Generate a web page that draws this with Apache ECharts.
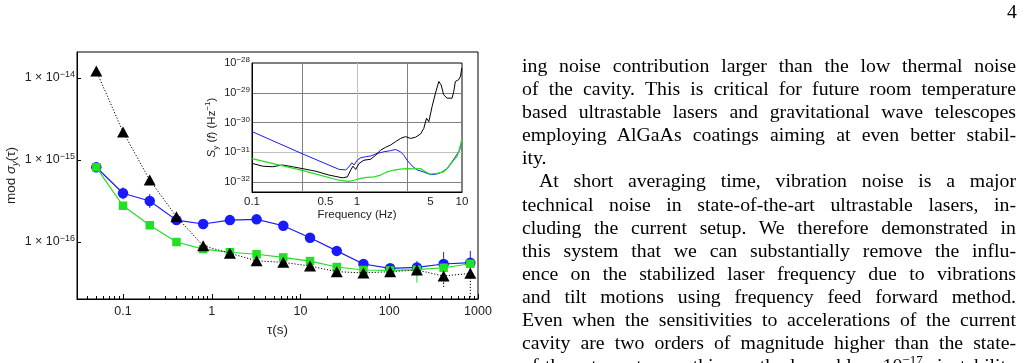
<!DOCTYPE html>
<html>
<head>
<meta charset="utf-8">
<title>mod sigma</title>
<script src="https://cdn.jsdelivr.net/npm/echarts@6/dist/echarts.min.js"></script>
<style>
  html, body { margin: 0; padding: 0; background: #fff; }
  #chart { position: absolute; left: 0; top: 0; width: 1026px; height: 363px; }
  .pageno { position: absolute; left: 1007px; top: 0px; font-family: "Liberation Serif"; font-size: 19.8px; line-height: 23px; color: #000; }
  .col { position: absolute; left: 522px; top: 54px; width: 494px; font-family: "Liberation Serif"; font-size: 19.8px; line-height: 23.1px; color: #000; }
  .col div { text-align: justify; text-align-last: justify; }
  .col div.last { text-align-last: left; }
  .col div.ind { text-indent: 17px; }
  .col sup { font-size: 13px; line-height: 0; }
</style>
</head>
<body>
<div id="chart"></div>
<div class="pageno">4</div>
<div class="col">
  <div>ing noise contribution larger than the low thermal noise</div>
  <div>of the cavity. This is critical for future room temperature</div>
  <div>based ultrastable lasers and gravitational wave telescopes</div>
  <div>employing AlGaAs coatings aiming at even better stabil-</div>
  <div class="last">ity.</div>
  <div class="ind">At short averaging time, vibration noise is a major</div>
  <div>technical noise in state-of-the-art ultrastable lasers, in-</div>
  <div>cluding the current setup. We therefore demonstrated in</div>
  <div>this system that we can substantially remove the influ-</div>
  <div>ence on the stabilized laser frequency due to vibrations</div>
  <div>and tilt motions using frequency feed forward method.</div>
  <div>Even when the sensitivities to accelerations of the current</div>
  <div>cavity are two orders of magnitude higher than the state-</div>
  <div>of-the-art systems, this method enables 10<sup>−17</sup> instability</div>
</div>
<script type="text/javascript">
  // averaging times (s)
  var tau = [0.05, 0.1, 0.2, 0.4, 0.8, 1.6, 3.2, 6.4, 12.8, 25.6, 51.2, 102.4, 204.8, 409.6, 819.2];
  var modBlue = [8.15e-16, 3.93e-16, 3.16e-16, 1.85e-16, 1.66e-16, 1.85e-16, 1.89e-16, 1.58e-16, 1.13e-16, 7.8e-17, 5.4e-17, 4.78e-17, 4.9e-17, 5.4e-17, 5.6e-17];
  var modGreen = [8.15e-16, 2.77e-16, 1.6e-16, 1.0e-16, 8.2e-17, 7.5e-17, 7.1e-17, 6.5e-17, 5.86e-17, 4.96e-17, 4.56e-17, 4.5e-17, 4.6e-17, 4.86e-17, 5.43e-17];
  var modBlack = [1.22e-14, 2.2e-15, 5.7e-16, 2.04e-16, 9.0e-17, 7.3e-17, 5.9e-17, 5.65e-17, 5.1e-17, 4.35e-17, 4.2e-17, 4.35e-17, 4.56e-17, 3.85e-17, 4.15e-17];

  // error bars [tau, low, high]
  var blueErr = [[0.1, 3.32e-16, 4.65e-16], [0.2, 2.6e-16, 3.85e-16], [102.4, 4.4e-17, 5.2e-17], [204.8, 4.07e-17, 5.86e-17], [409.6, 3.85e-17, 7.55e-17], [819.2, 3.95e-17, 7.8e-17]];
  var greenErr = [[204.8, 3.2e-17, 5.7e-17], [409.6, 3.1e-17, 6.4e-17]];
  var blackErr = [[409.6, 2.83e-17, 4.9e-17], [819.2, 1.0e-17, 5.1e-17]];

  // tick labels
  var tauTicks = [0.1, 1, 10, 100, 1000];
  var tauMinor = [0.04, 0.05, 0.06, 0.07, 0.08, 0.09, 0.2, 0.3, 0.4, 0.5, 0.6, 0.7, 0.8, 0.9, 2, 3, 4, 5, 6, 7, 8, 9, 20, 30, 40, 50, 60, 70, 80, 90, 200, 300, 400, 500, 600, 700, 800, 900];
  var modTicks = [1e-16, 1e-15, 1e-14];
  var freqTicks = [0.1, 0.5, 1, 5, 10];
  var freqGrid = [0.3, 1, 3];
  var specTicks = [1e-32, 1e-31, 1e-30, 1e-29, 1e-28];
  var specGrid = [1e-32, 1e-31, 1e-30, 1e-29];

  // inset: frequency noise spectra S_y(f) in Hz^-1
  var freqBlue = [0.1, 0.3, 0.675, 0.782, 0.839, 0.891, 0.938, 1.007, 1.084, 1.21, 1.35, 1.56, 1.8, 2.09, 2.33, 2.6, 2.79, 3.0, 3.35, 3.74, 4.33, 5.01, 5.79, 6.46, 7.21, 8.04, 8.65, 9.51, 9.79];
  var specBlue = [5.0e-31, 9.1e-32, 2.7e-32, 2.6e-32, 3.3e-32, 4.5e-32, 3.8e-32, 5.5e-32, 6.6e-32, 7.2e-32, 7.6e-32, 9.3e-32, 1.05e-31, 1.15e-31, 1.26e-31, 1.05e-31, 8.1e-32, 5.5e-32, 3.5e-32, 2.6e-32, 2.2e-32, 1.8e-32, 1.9e-32, 2.2e-32, 2.9e-32, 4.9e-32, 7.2e-32, 1.2e-31, 2.0e-31];
  var freqGreen = [0.1, 0.3, 0.675, 0.839, 0.938, 1.084, 1.25, 1.45, 1.68, 1.94, 2.24, 2.6, 3.0, 3.47, 4.03, 4.49, 5.0, 5.8, 6.7, 7.48, 8.34, 8.97, 9.51, 10];
  var specGreen = [6.2e-32, 2.5e-32, 1.17e-32, 1.07e-32, 1.17e-32, 1.35e-32, 1.45e-32, 1.51e-32, 1.74e-32, 2.24e-32, 2.57e-32, 2.75e-32, 2.88e-32, 2.82e-32, 2.88e-32, 2.24e-32, 1.86e-32, 2.0e-32, 2.24e-32, 3.31e-32, 5.5e-32, 7.24e-32, 1.38e-31, 2.95e-31];
  var freqBlack = [0.1, 0.126, 0.157, 0.195, 0.243, 0.3, 0.406, 0.542, 0.725, 0.809, 0.871, 0.916, 0.972, 1.045, 1.165, 1.35, 1.51, 1.68, 1.87, 2.09, 2.33, 2.6, 2.9, 3.24, 3.61, 4.03, 4.33, 4.59, 4.83, 5.19, 5.59, 6.01, 6.32, 6.7, 7.21, 8.04, 8.34, 8.65, 9.29, 9.66, 9.95];
  var specBlack = [4.3e-32, 3.47e-32, 3.31e-32, 3.8e-32, 3.31e-32, 2.88e-32, 2.34e-32, 1.74e-32, 1.41e-32, 1.51e-32, 2.57e-32, 3.47e-32, 2.69e-32, 4.27e-32, 5.5e-32, 5.89e-32, 8.13e-32, 1.2e-31, 1.48e-31, 1.78e-31, 2.29e-31, 2.95e-31, 3.39e-31, 2.95e-31, 3.24e-31, 4.17e-31, 6.46e-31, 1.41e-30, 1.07e-30, 3.47e-30, 9.77e-30, 2.4e-29, 1.86e-29, 8.51e-30, 6.61e-30, 6.61e-30, 1.1e-29, 2.4e-29, 2.75e-29, 3.55e-29, 6.76e-29];

  // the inset axis works in units of 1e-32 Hz^-1 (echarts rounds very small numbers to 0)
  var specUnit = 1e-32;
  var specExp = 32;

  var sans = 'Liberation Sans';
  var labelColor = '#222';

  function pairs(xs, ys, unit) {
    var out = [];
    for (var i = 0; i < xs.length; i++) out.push([xs[i], unit ? ys[i] / unit : ys[i]]);
    return out;
  }

  function scaled(list, unit) {
    return list.map(function (v) { return +(v / unit).toPrecision(6); });
  }

  function expOf(v) {
    return Math.round(Math.log(v) / Math.LN10);
  }

  function errSeries(data, color, dotted) {
    return {
      type: 'custom',
      xAxisIndex: 0,
      yAxisIndex: 0,
      data: data,
      z: 1,
      clip: true,
      encode: { x: 0, y: [1, 2] },
      renderItem: function (params, api) {
        var a = api.coord([api.value(0), api.value(1)]);
        var b = api.coord([api.value(0), api.value(2)]);
        return {
          type: 'line',
          shape: { x1: a[0], y1: a[1], x2: b[0], y2: b[1] },
          style: { stroke: color, lineWidth: 1, lineDash: dotted ? [1.2, 1.8] : null }
        };
      }
    };
  }

  var myChart = echarts.init(document.getElementById('chart'), null, { renderer: 'canvas' });

  var option = {
    backgroundColor: '#fff',
    animation: false,
    grid: [
      { left: 77, top: 52, width: 401, height: 247, show: true, borderColor: '#000', borderWidth: 1, backgroundColor: 'transparent' },
      { left: 252, top: 63, width: 210, height: 129, show: true, borderColor: '#000', borderWidth: 1, backgroundColor: '#fff' }
    ],
    xAxis: [
      {
        type: 'log', gridIndex: 0, min: 0.0303, max: 1000,
        axisLine: { lineStyle: { color: '#000', width: 1 } },
        axisTick: { inside: true, length: 5, customValues: tauTicks, lineStyle: { color: '#000' } },
        axisLabel: {
          customValues: tauTicks, margin: 6, fontSize: 12.5, fontFamily: sans, color: labelColor,
          formatter: function (v) { return String(+v.toPrecision(3)); }
        },
        splitLine: { show: false },
        name: 'τ(s)', nameLocation: 'middle', nameGap: 22,
        nameTextStyle: { fontSize: 13.5, fontFamily: sans, color: labelColor }
      },
      {
        type: 'log', gridIndex: 0, min: 0.0303, max: 1000, position: 'bottom',
        axisLine: { show: false },
        axisTick: { inside: true, length: 3, customValues: tauMinor, lineStyle: { color: '#000' } },
        axisLabel: { show: false },
        splitLine: { show: false }
      },
      {
        type: 'log', gridIndex: 1, min: 0.1, max: 10,
        axisLine: { lineStyle: { color: '#000', width: 1 } },
        axisTick: { show: false, customValues: freqGrid },
        axisLabel: {
          customValues: freqTicks, margin: 4, fontSize: 11.5, fontFamily: sans, color: labelColor,
          formatter: function (v) { return String(+v.toPrecision(3)); }
        },
        splitLine: { show: true, lineStyle: { color: ['#808080', '#c0c0c0', '#808080'], width: 1 } },
        name: 'Frequency (Hz)', nameLocation: 'middle', nameGap: 17,
        nameTextStyle: { fontSize: 11.5, fontFamily: sans, color: labelColor }
      }
    ],
    yAxis: [
      {
        type: 'log', gridIndex: 0, min: 2.02e-17, max: 2.075e-14,
        axisLine: { lineStyle: { color: '#000', width: 1 } },
        axisTick: { inside: true, length: 4, customValues: modTicks, lineStyle: { color: '#000' } },
        axisLabel: {
          customValues: modTicks, margin: 2, fontSize: 12.5, fontFamily: sans, color: labelColor, lineHeight: 16,
          formatter: function (v) { return '1 × 10{sup|−' + (-expOf(v)) + '}'; },
          rich: { sup: { fontSize: 9, fontFamily: sans, color: labelColor, lineHeight: 8, verticalAlign: 'top' } }
        },
        splitLine: { show: false },
        name: 'mod {i|σ}{sub|y}(τ)', nameLocation: 'middle', nameGap: 52, nameRotate: 90,
        nameTextStyle: {
          fontSize: 13.5, fontFamily: sans, color: labelColor, lineHeight: 18,
          rich: {
            i: { fontSize: 13.5, fontFamily: sans, fontStyle: 'italic', color: labelColor, lineHeight: 18 },
            sub: { fontSize: 9.5, fontFamily: sans, fontStyle: 'italic', color: labelColor, lineHeight: 11, verticalAlign: 'bottom' }
          }
        }
      },
      {
        type: 'log', gridIndex: 1, min: 4.71e-33 / specUnit, max: 1e-28 / specUnit,
        axisLine: { lineStyle: { color: '#000', width: 1 } },
        axisTick: { show: false, customValues: scaled(specGrid, specUnit) },
        axisLabel: {
          customValues: scaled(specTicks, specUnit), margin: 2, fontSize: 11, fontFamily: sans, color: labelColor, lineHeight: 14,
          formatter: function (v) { return '10{sup|−' + (specExp - expOf(v)) + '}'; },
          rich: { sup: { fontSize: 8, fontFamily: sans, color: labelColor, lineHeight: 7, verticalAlign: 'top' } }
        },
        splitLine: { show: true, lineStyle: { color: ['#808080', '#c0c0c0', '#808080', '#808080'], width: 1 } },
        name: '{i|S}{sub|y} ({i|f}) (Hz{sup|−1})', nameLocation: 'middle', nameGap: 32, nameRotate: 90,
        nameTextStyle: {
          fontSize: 11.5, fontFamily: sans, color: labelColor, lineHeight: 16,
          rich: {
            i: { fontSize: 11.5, fontFamily: sans, fontStyle: 'italic', color: labelColor, lineHeight: 16 },
            sub: { fontSize: 8, fontFamily: sans, color: labelColor, lineHeight: 10, verticalAlign: 'bottom' },
            sup: { fontSize: 8, fontFamily: sans, color: labelColor, lineHeight: 9, verticalAlign: 'top' }
          }
        }
      }
    ],
    series: [
      errSeries(blueErr, '#1a1aff', false),
      errSeries(greenErr, '#22dd22', false),
      errSeries(blackErr, '#000', true),
      {
        name: 'blue', type: 'line', xAxisIndex: 0, yAxisIndex: 0, data: pairs(tau, modBlue),
        symbol: 'circle', symbolSize: 10.5, z: 2,
        lineStyle: { color: '#1a1aff', width: 1.2 },
        itemStyle: { color: '#1a1aff' }
      },
      {
        name: 'green', type: 'line', xAxisIndex: 0, yAxisIndex: 0, data: pairs(tau, modGreen),
        symbol: 'rect', symbolSize: 8.5, z: 3,
        lineStyle: { color: '#22dd22', width: 1.2 },
        itemStyle: { color: '#22e022' }
      },
      {
        name: 'black', type: 'line', xAxisIndex: 0, yAxisIndex: 0, data: pairs(tau, modBlack),
        symbol: 'triangle', symbolSize: [12, 11], z: 4,
        lineStyle: { color: '#000', width: 1, type: [1.2, 1.8] },
        itemStyle: { color: '#000' }
      },
      {
        type: 'line', xAxisIndex: 2, yAxisIndex: 1, data: pairs(freqBlue, specBlue, specUnit),
        showSymbol: false, z: 5, lineStyle: { color: '#1a1aff', width: 1 }
      },
      {
        type: 'line', xAxisIndex: 2, yAxisIndex: 1, data: pairs(freqBlack, specBlack, specUnit),
        showSymbol: false, z: 6, lineStyle: { color: '#000', width: 1 }
      },
      {
        type: 'line', xAxisIndex: 2, yAxisIndex: 1, data: pairs(freqGreen, specGreen, specUnit),
        showSymbol: false, z: 7, lineStyle: { color: '#22dd22', width: 1.2 }
      }
    ]
  };

  myChart.setOption(option);
</script>
</body>
</html>
